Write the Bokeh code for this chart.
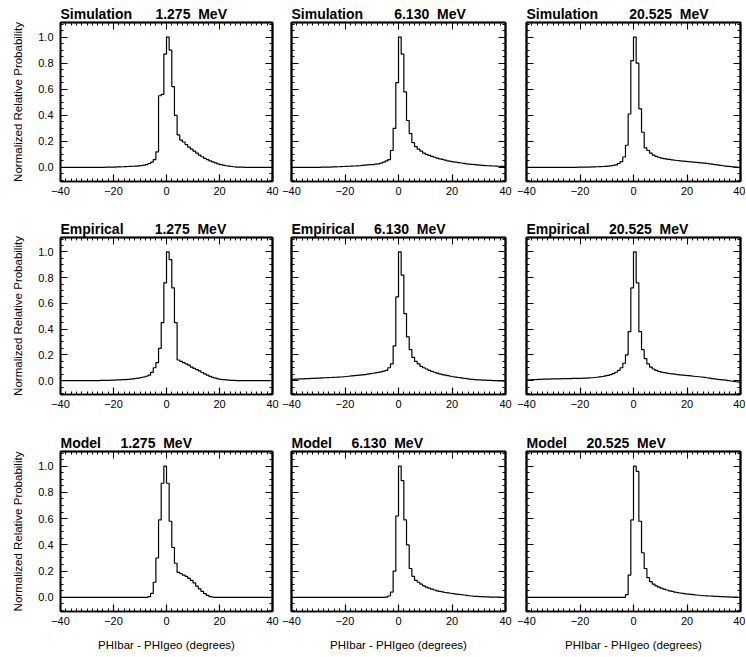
from bokeh.plotting import figure
from bokeh.layouts import column, row
from bokeh.models import Range1d, LinearAxis, FixedTicker, PrintfTickFormatter
from bokeh.embed import file_html
from bokeh.resources import INLINE

# ---------------- data ----------------
BIN_EDGES = [-40, -39, -38, -37, -36, -35, -34, -33, -32, -31,
             -30, -29, -28, -27, -26, -25, -24, -23, -22, -21,
             -20, -19, -18, -17, -16, -15, -14, -13, -12, -11,
             -10, -9, -8, -7, -6, -5, -4, -3, -2, -1,
             0, 1, 2, 3, 4, 5, 6, 7, 8, 9,
             10, 11, 12, 13, 14, 15, 16, 17, 18, 19,
             20, 21, 22, 23, 24, 25, 26, 27, 28, 29,
             30, 31, 32, 33, 34, 35, 36, 37, 38, 39, 40]

ROW_NAMES = ["Simulation", "Empirical", "Model"]
ENERGIES = ["1.275", "6.130", "20.525"]
X_TICKS = [-40, -20, 0, 20, 40]
X_MINOR = [-40, -38, -36, -34, -32, -30, -28, -26, -24, -22, -20, -18, -16, -14, -12, -10,
           -8, -6, -4, -2, 0, 2, 4, 6, 8, 10, 12, 14, 16, 18, 20, 22, 24, 26, 28, 30,
           32, 34, 36, 38, 40]
Y_TICKS = [0.0, 0.2, 0.4, 0.6, 0.8, 1.0]
Y_MINOR = [-0.1, -0.05, 0.0, 0.05, 0.1, 0.15, 0.2, 0.25, 0.3, 0.35, 0.4, 0.45, 0.5, 0.55,
           0.6, 0.65, 0.7, 0.75, 0.8, 0.85, 0.9, 0.95, 1.0, 1.05, 1.1]
X_LABEL = "PHIbar - PHIgeo (degrees)"
Y_LABEL = "Normalized Relative Probability"

sim_1275 = [
    0, 0, 0, 0, 0, 0, 0, 0, 0, 0,
    0, 0, 0, 0, 0, 0.001, 0.001, 0.002, 0.002, 0.003,
    0.003, 0.004, 0.004, 0.005, 0.006, 0.007, 0.008, 0.009, 0.01, 0.012,
    0.014, 0.017, 0.022, 0.03, 0.04, 0.06, 0.12, 0.55, 0.56, 0.87,
    1.0, 0.9, 0.62, 0.4, 0.25, 0.21, 0.195, 0.175, 0.155, 0.14,
    0.125, 0.11, 0.095, 0.082, 0.07, 0.06, 0.05, 0.042, 0.035, 0.028,
    0.022, 0.017, 0.013, 0.01, 0.007, 0.005, 0.003, 0.002, 0.002, 0.001,
    0.001, 0, 0, 0, 0, 0, 0, 0, 0, 0,
]
sim_6130 = [
    0, 0, 0, 0, 0, 0, 0, 0, 0, 0.001,
    0.001, 0.002, 0.002, 0.003, 0.003, 0.004, 0.004, 0.005, 0.006, 0.007,
    0.008, 0.009, 0.01, 0.011, 0.012, 0.013, 0.015, 0.017, 0.019, 0.021,
    0.022, 0.025, 0.028, 0.033, 0.04, 0.05, 0.06, 0.13, 0.3, 0.65,
    1.0, 0.87, 0.58, 0.36, 0.26, 0.19, 0.16, 0.14, 0.125, 0.11,
    0.1, 0.092, 0.085, 0.078, 0.072, 0.066, 0.061, 0.056, 0.051, 0.047,
    0.043, 0.04, 0.037, 0.034, 0.031, 0.028, 0.026, 0.024, 0.022, 0.02,
    0.018, 0.016, 0.014, 0.013, 0.012, 0.011, 0.01, 0.009, 0.008, 0.008,
]
sim_20525 = [
    0, 0, 0, 0, 0, 0, 0, 0, 0, 0,
    0, 0, 0, 0, 0, 0, 0.001, 0.001, 0.001, 0.002,
    0.002, 0.002, 0.003, 0.003, 0.004, 0.004, 0.005, 0.006, 0.007, 0.008,
    0.01, 0.012, 0.015, 0.02, 0.03, 0.045, 0.08, 0.17, 0.41, 0.82,
    1.0, 0.8, 0.45, 0.27, 0.15, 0.13, 0.11, 0.095, 0.085, 0.078,
    0.072, 0.068, 0.064, 0.061, 0.058, 0.055, 0.053, 0.051, 0.049, 0.047,
    0.045, 0.043, 0.041, 0.039, 0.037, 0.035, 0.033, 0.031, 0.028, 0.025,
    0.022, 0.019, 0.016, 0.013, 0.01, 0.008, 0.006, 0.004, 0.002, 0,
]
emp_1275 = [
    0, 0, 0, 0, 0, 0, 0, 0, 0, 0,
    0, 0, 0, 0, 0, 0.001, 0.001, 0.002, 0.002, 0.003,
    0.004, 0.005, 0.006, 0.007, 0.008, 0.01, 0.012, 0.014, 0.017, 0.02,
    0.024, 0.028, 0.034, 0.042, 0.064, 0.1, 0.14, 0.25, 0.45, 0.76,
    1.0, 0.94, 0.72, 0.45, 0.16, 0.15, 0.14, 0.13, 0.12, 0.105,
    0.095, 0.085, 0.075, 0.063, 0.052, 0.042, 0.033, 0.025, 0.019, 0.014,
    0.01, 0.007, 0.005, 0.003, 0.002, 0.001, 0, 0, 0, 0,
    0, 0, 0, 0, 0, 0, 0, 0, 0, 0,
]
emp_6130 = [
    0.01, 0.011, 0.012, 0.013, 0.014, 0.015, 0.016, 0.017, 0.018, 0.019,
    0.02, 0.021, 0.022, 0.023, 0.024, 0.025, 0.026, 0.027, 0.028, 0.03,
    0.032, 0.034, 0.036, 0.038, 0.04, 0.042, 0.044, 0.047, 0.05, 0.054,
    0.057, 0.06, 0.064, 0.068, 0.074, 0.08, 0.1, 0.13, 0.27, 0.65,
    1.0, 0.82, 0.52, 0.34, 0.24, 0.18, 0.15, 0.13, 0.11, 0.1,
    0.09, 0.08, 0.072, 0.065, 0.058, 0.052, 0.047, 0.042, 0.038, 0.034,
    0.03, 0.027, 0.024, 0.021, 0.018, 0.015, 0.012, 0.01, 0.008, 0.006,
    0.005, 0.004, 0.003, 0.002, 0.001, 0, 0, -0.002, -0.003, -0.004,
]
emp_20525 = [
    0.005, 0.006, 0.007, 0.008, 0.009, 0.01, 0.011, 0.012, 0.012, 0.013,
    0.013, 0.014, 0.014, 0.015, 0.015, 0.016, 0.016, 0.017, 0.017, 0.018,
    0.018, 0.019, 0.02, 0.021, 0.022, 0.024, 0.026, 0.029, 0.032, 0.036,
    0.04, 0.046, 0.054, 0.065, 0.08, 0.1, 0.135, 0.2, 0.38, 0.72,
    1.0, 0.76, 0.38, 0.24, 0.17, 0.13, 0.105, 0.09, 0.08, 0.072,
    0.066, 0.062, 0.058, 0.055, 0.052, 0.05, 0.047, 0.045, 0.042, 0.04,
    0.038, 0.036, 0.034, 0.032, 0.03, 0.028, 0.025, 0.022, 0.019, 0.016,
    0.013, 0.01, 0.008, 0.005, 0.003, 0, -0.003, -0.006, -0.009, -0.012,
]
model_1275 = [
    0, 0, 0, 0, 0, 0, 0, 0, 0, 0,
    0, 0, 0, 0, 0, 0, 0, 0, 0, 0,
    0, 0, 0, 0, 0, 0, 0, 0, 0, 0,
    0, 0, 0, 0.005, 0.03, 0.115, 0.3, 0.59, 0.87, 1.0,
    0.87, 0.58, 0.38, 0.26, 0.19, 0.18, 0.17, 0.16, 0.145, 0.13,
    0.11, 0.085, 0.065, 0.045, 0.028, 0.015, 0.006, 0.002, 0, 0,
    0, 0, 0, 0, 0, 0, 0, 0, 0, 0,
    0, 0, 0, 0, 0, 0, 0, 0, 0, 0,
]
model_6130 = [
    0, 0, 0, 0, 0, 0, 0, 0, 0, 0,
    0, 0, 0, 0, 0, 0, 0, 0, 0, 0,
    0, 0, 0, 0, 0, 0, 0, 0, 0, 0,
    0, 0, 0, 0, 0, 0.002, 0.01, 0.04, 0.2, 0.62,
    1.0, 0.89, 0.59, 0.4, 0.22, 0.16, 0.13, 0.115, 0.1, 0.088,
    0.078, 0.07, 0.063, 0.056, 0.05, 0.045, 0.041, 0.037, 0.034, 0.031,
    0.028, 0.025, 0.022, 0.02, 0.018, 0.015, 0.012, 0.01, 0.008, 0.007,
    0.006, 0.005, 0.004, 0.003, 0.002, 0.002, 0.001, 0.001, 0, 0,
]
model_20525 = [
    0, 0, 0, 0, 0, 0, 0, 0, 0, 0,
    0, 0, 0, 0, 0, 0, 0, 0, 0, 0,
    0, 0, 0, 0, 0, 0, 0, 0, 0, 0,
    0, 0, 0, 0, 0, 0, 0, 0.02, 0.17, 0.59,
    1.0, 0.96, 0.58, 0.34, 0.22, 0.15, 0.12, 0.1, 0.088, 0.078,
    0.07, 0.062, 0.056, 0.05, 0.045, 0.04, 0.036, 0.033, 0.03, 0.027,
    0.024, 0.022, 0.02, 0.018, 0.016, 0.014, 0.012, 0.011, 0.01, 0.009,
    0.008, 0.007, 0.006, 0.005, 0.004, 0.003, 0.002, 0.001, 0.001, 0,
]

SERIES = [[sim_1275, sim_6130, sim_20525],
          [emp_1275, emp_6130, emp_20525],
          [model_1275, model_6130, model_20525]]

# ---------------- layout / style ----------------
FONT = "Liberation Sans"
NBSP = "\u00a0"
TITLE_GAPS = [[6, 8, 8], [8, 5, 5], [5, 5, 5]]
COL_LEFT = [60, 10, 11]
COL_FRAME = [212, 214, 214]
COL_RIGHT = [9, 10, 5]
ROW_TOP = [22, 22, 22]
ROW_FRAME = [159, 157, 160]
ROW_BOTTOM = [34, 35, 44]
Y_LO, Y_HI = -0.108, 1.112


def base_axis(ax, ticks, minor, tick_len, minor_len):
    ax.ticker = FixedTicker(ticks=ticks, minor_ticks=minor)
    ax.major_tick_in = tick_len
    ax.major_tick_out = 0
    ax.minor_tick_in = minor_len
    ax.minor_tick_out = 0
    ax.axis_line_width = 1.6
    ax.axis_line_color = "black"
    ax.major_tick_line_color = "black"
    ax.minor_tick_line_color = "black"
    ax.major_tick_line_width = 1.2
    ax.minor_tick_line_width = 1
    ax.major_label_text_font = FONT
    ax.major_label_text_font_size = "11px"
    ax.major_label_text_color = "black"
    ax.axis_label_text_font = FONT
    ax.axis_label_text_font_style = "normal"
    ax.axis_label_text_color = "black"


def mirror_axes(p, side, ticks, minor):
    # unlabeled side: long ticks at the major positions, short ones between
    long_ax = LinearAxis()
    base_axis(long_ax, [], ticks, 0, 7)
    short_ax = LinearAxis()
    base_axis(short_ax, [], minor, 0, 3)
    p.add_layout(long_ax, side)
    p.add_layout(short_ax, side)


def make_panel(r, c):
    vals = SERIES[r][c]
    p = figure(width=COL_LEFT[c] + COL_FRAME[c] + COL_RIGHT[c],
               height=ROW_TOP[r] + ROW_FRAME[r] + ROW_BOTTOM[r],
               x_range=Range1d(-40, 40), y_range=Range1d(Y_LO, Y_HI),
               output_backend="svg", toolbar_location=None,
               x_axis_location=None, y_axis_location=None,
               min_border_left=COL_LEFT[c], min_border_right=COL_RIGHT[c],
               min_border_top=ROW_TOP[r], min_border_bottom=ROW_BOTTOM[r])
    p.grid.visible = False
    p.outline_line_color = "black"
    p.outline_line_width = 1.6
    p.background_fill_color = "white"
    p.border_fill_color = "white"

    p.title.text = (ROW_NAMES[r] + NBSP * TITLE_GAPS[r][c] + ENERGIES[c]
                    + NBSP * 2 + "MeV")
    p.title.text_font = FONT
    p.title.text_font_size = "14px"
    p.title.text_font_style = "bold"
    p.title.text_color = "black"
    p.title.align = "left"
    p.title.standoff = 2

    bottom = LinearAxis()
    base_axis(bottom, X_TICKS, X_MINOR, 7, 3)
    bottom.major_label_standoff = 5
    if r == 2:
        bottom.axis_label = X_LABEL
        bottom.axis_label_text_font_size = "11.5px"
        bottom.axis_label_standoff = 11
    p.add_layout(bottom, "below")
    mirror_axes(p, "above", X_TICKS, X_MINOR)

    if c == 0:
        left = LinearAxis(formatter=PrintfTickFormatter(format="%.1f"))
        base_axis(left, Y_TICKS, Y_MINOR, 7, 3)
        left.major_label_standoff = 7
        left.axis_label = Y_LABEL
        left.axis_label_text_font_size = "11.5px"
        left.axis_label_standoff = 11
        p.add_layout(left, "left")
    else:
        mirror_axes(p, "left", Y_TICKS, Y_MINOR)
    mirror_axes(p, "right", Y_TICKS, Y_MINOR)

    p.step(x=BIN_EDGES, y=vals + [vals[-1]], mode="after",
           line_color="black", line_width=1.2)
    return p


rows = []
for r in range(3):
    rows.append(row([make_panel(r, c) for c in range(3)], spacing=0))
layout = column(rows, spacing=0)

open("out.html", "w").write(file_html(layout, INLINE))
